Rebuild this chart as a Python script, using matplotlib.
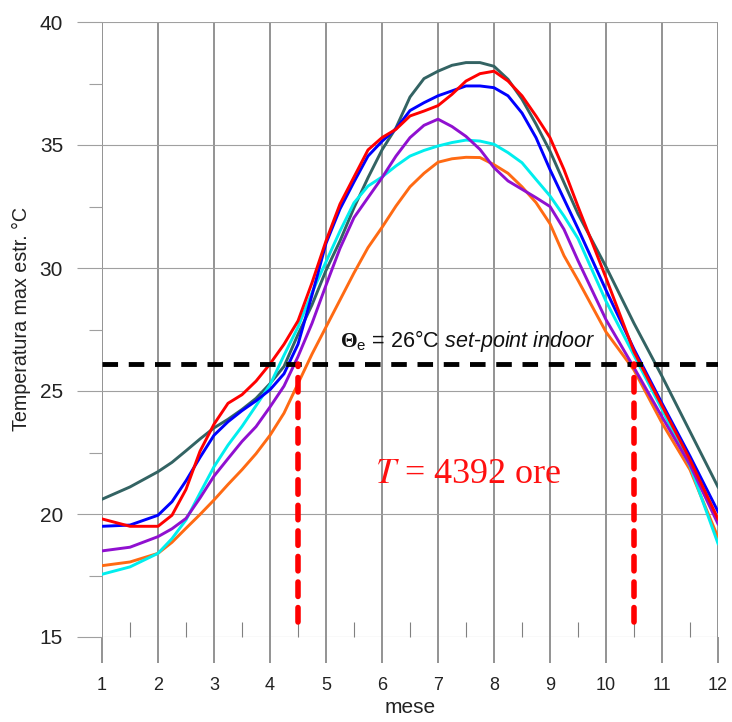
import matplotlib
matplotlib.use('Agg')
import matplotlib.pyplot as plt
from matplotlib.ticker import MultipleLocator

plt.rcParams['font.family'] = ['Liberation Sans', 'DejaVu Sans']
plt.rcParams['mathtext.fontset'] = 'custom'
plt.rcParams['mathtext.rm'] = 'Liberation Sans'
plt.rcParams['mathtext.it'] = 'Liberation Sans:italic'
plt.rcParams['mathtext.bf'] = 'Liberation Serif:bold'

# mesi (passo di un quarto di mese dove le curve piegano)
months = [1, 1.5, 2, 2.25, 2.5, 2.75, 3, 3.25, 3.5, 3.75, 4, 4.25, 4.5, 4.75, 5, 5.25,
          5.5, 5.75, 6, 6.25, 6.5, 6.75, 7, 7.25, 7.5, 7.75, 8, 8.25, 8.5, 8.75, 9, 9.25,
          9.5, 10, 10.5, 11, 11.5, 12]

# temperature massime estive, una serie per localita
t_red = [19.8, 19.5, 19.5, 19.95, 21.0, 22.55, 23.65, 24.5, 24.85, 25.4, 26.1, 26.9, 27.85,
         29.4, 31.1, 32.6, 33.7, 34.8, 35.3, 35.64, 36.18, 36.38, 36.6, 37.06, 37.6, 37.9,
         38.0, 37.6, 37.0, 36.18, 35.3, 34.0, 32.5, 29.6, 26.6, 24.4, 22.2, 19.8]
t_blue = [19.5, 19.55, 19.95, 20.5, 21.35, 22.3, 23.2, 23.75, 24.2, 24.6, 25.05, 25.7, 26.9,
          28.9, 31.0, 32.4, 33.5, 34.55, 35.15, 35.66, 36.4, 36.72, 37.0, 37.2, 37.4, 37.4,
          37.33, 37.0, 36.3, 35.3, 34.0, 32.8, 31.6, 29.1, 26.7, 24.5, 22.35, 20.1]
t_slate = [20.6, 21.1, 21.72, 22.1, 22.57, 23.05, 23.5, 23.85, 24.25, 24.7, 25.3, 26.0, 27.3,
           28.5, 29.9, 31.1, 32.45, 33.67, 34.8, 35.7, 36.95, 37.7, 38.0, 38.24, 38.35, 38.35,
           38.2, 37.67, 36.86, 35.85, 34.75, 33.47, 32.2, 30.05, 27.75, 25.6, 23.35, 21.1]
t_purple = [18.5, 18.65, 19.08, 19.4, 19.82, 20.65, 21.54, 22.25, 22.95, 23.55, 24.35, 25.2,
            26.4, 27.75, 29.3, 30.8, 32.05, 32.86, 33.67, 34.55, 35.3, 35.8, 36.05, 35.75,
            35.35, 34.82, 34.08, 33.54, 33.2, 32.86, 32.5, 31.57, 30.3, 27.9, 25.95, 23.95, 22.0, 19.6]
t_cyan = [17.55, 17.85, 18.4, 19.0, 19.76, 20.85, 21.92, 22.8, 23.56, 24.4, 25.25, 26.45, 27.6,
          29.0, 30.25, 31.5, 32.65, 33.33, 33.7, 34.15, 34.55, 34.78, 34.96, 35.1, 35.2, 35.16,
          35.03, 34.69, 34.28, 33.6, 32.93, 32.11, 31.2, 28.65, 26.45, 24.25, 21.95, 18.8]
t_orange = [17.9, 18.05, 18.4, 18.85, 19.42, 19.98, 20.57, 21.2, 21.8, 22.45, 23.2, 24.1, 25.3,
            26.5, 27.6, 28.7, 29.8, 30.83, 31.65, 32.52, 33.3, 33.85, 34.3, 34.44, 34.5, 34.49,
            34.2, 33.85, 33.3, 32.66, 31.8, 30.5, 29.5, 27.4, 25.85, 23.7, 21.8, 19.05]

setpoint = 26.1          # linea set-point indoor
cool_start = 4.5         # inizio periodo T
cool_end = 10.5          # fine periodo T
red_bottom = 15.6

fig = plt.figure(figsize=(7.32, 7.22), dpi=100)
ax = fig.add_axes([102/732, 85/722, 616/732, 615/722])

series = [(t_slate, '#336363'), (t_orange, '#ff6a13'), (t_cyan, '#00eeee'),
          (t_purple, '#9010d0'), (t_blue, '#0000ff'), (t_red, '#ff0000')]
for vals, col in series:
    ax.plot(months, vals, color=col, lw=2.1, solid_joinstyle='round', zorder=3)

ax.plot([months[0], months[-1]], [setpoint, setpoint], color='black', lw=3.5,
        dashes=(3.2, 2.2), zorder=4)
for xm in [cool_start, cool_end]:
    ax.plot([xm, xm], [red_bottom, setpoint], color='red', lw=4,
            dashes=(2.6, 2.0), dash_capstyle='round', zorder=5)

ax.set_xlim(1, 12)
ax.set_ylim(15, 40)
ax.set_xticks(range(1, 13))
ax.set_yticks(range(15, 41, 5))
ax.xaxis.set_minor_locator(MultipleLocator(0.5))
ax.yaxis.set_minor_locator(MultipleLocator(2.5))
ax.tick_params(axis='x', which='major', direction='out', length=18.7, width=1.2,
               color='#808080', labelsize=13, pad=10, labelcolor='#222222')
ax.tick_params(axis='x', which='minor', direction='in', length=10.8, width=0.8, color='#808080')
ax.tick_params(axis='y', which='major', direction='out', length=18, width=0.8,
               color='#a0a0a0', labelsize=15, pad=10, labelcolor='#222222')
ax.tick_params(axis='y', which='minor', direction='out', length=9.4, width=0.8, color='#a0a0a0')
ax.grid(axis='x', which='major', color='#808080', lw=1.2)
ax.grid(axis='y', which='major', color='#a0a0a0', lw=0.8)
for s in ax.spines.values():
    s.set_visible(False)
ax.set_axisbelow(True)

ax.set_ylabel('Temperatura max estr. °C', fontsize=14.2, va='center', color='#222222')
ax.yaxis.set_label_coords(-0.13, 0.517)
ax.set_xlabel('mese', fontsize=15, va='center', color='#222222')
ax.xaxis.set_label_coords(0.5, -0.114)

ax.text(5.25, 26.78, r'$\mathbf{\Theta}_{\mathrm{e}}$ = 26°C $\mathit{set}$-$\mathit{point\ indoor}$',
        fontsize=15.5, va='baseline', ha='left', color='#111111', zorder=6)
ax.text(5.875, 21.25, r'$T$ = 4392 ore', family='Liberation Serif', math_fontfamily='stix',
        fontsize=26, color='#ff1010', va='baseline', ha='left', zorder=6)

fig.savefig('out.png', dpi=100)
